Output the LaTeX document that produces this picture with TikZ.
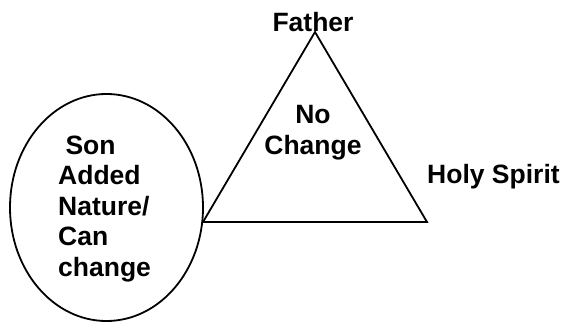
\documentclass[tikz,border=0pt]{standalone}
\usepackage{fontspec}
\usetikzlibrary{shapes.geometric}
\setmainfont{Liberation Sans}
\begin{document}
\begin{tikzpicture}[x=1pt,y=1pt,
  shapeline/.style={draw=black,line width=1.8pt},
  lbl/.style={inner sep=0pt,font=\fontsize{26.5}{30.5}\selectfont\bfseries}]
\useasboundingbox (0,0) rectangle (562,322);
\coordinate (F) at (315,290);
\coordinate (L) at (203,100);
\coordinate (R) at (427,100);
\draw[shapeline,line join=miter] (F) -- (R) -- (L) -- cycle;
\node[shapeline,ellipse,minimum width=193pt,minimum height=227pt,inner sep=0pt] (son) at (106.5,114.5) {};
\node[lbl,anchor=base west,align=left] (sontext) at (58,46) {\ Son\\Added\\Nature/\\Can\\change};
\node[lbl,anchor=base] (father) at (313,290) {Father};
\node[lbl,anchor=base,align=center] (nochange) at (313,168) {No\\Change};
\node[lbl,anchor=base west] (holy) at (427,139) {Holy Spirit};
\end{tikzpicture}
\end{document}
